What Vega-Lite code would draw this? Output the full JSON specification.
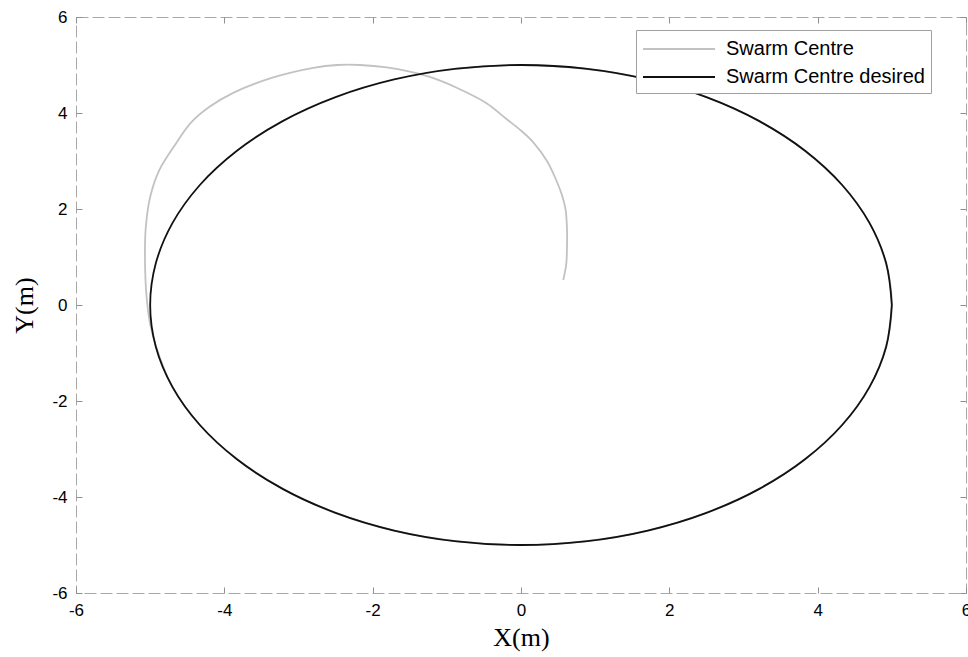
{
  "$schema": "https://vega.github.io/schema/vega-lite/v6.json",
  "width": 890,
  "height": 576,
  "autosize": {"type": "none"},
  "padding": {"left": 76, "top": 17, "right": 2, "bottom": 64},
  "background": "white",
  "data": {"values": [
    {"s": "Swarm Centre", "t": 0, "x": 0.57, "y": 0.52},
    {"s": "Swarm Centre", "t": 1, "x": 0.61, "y": 0.85},
    {"s": "Swarm Centre", "t": 2, "x": 0.62, "y": 1.2},
    {"s": "Swarm Centre", "t": 3, "x": 0.62, "y": 1.6},
    {"s": "Swarm Centre", "t": 4, "x": 0.6, "y": 2.0},
    {"s": "Swarm Centre", "t": 5, "x": 0.55, "y": 2.3},
    {"s": "Swarm Centre", "t": 6, "x": 0.47, "y": 2.62},
    {"s": "Swarm Centre", "t": 7, "x": 0.35, "y": 3.0},
    {"s": "Swarm Centre", "t": 8, "x": 0.16, "y": 3.4},
    {"s": "Swarm Centre", "t": 9, "x": -0.02, "y": 3.66},
    {"s": "Swarm Centre", "t": 10, "x": -0.2, "y": 3.88},
    {"s": "Swarm Centre", "t": 11, "x": -0.46, "y": 4.2},
    {"s": "Swarm Centre", "t": 12, "x": -0.86, "y": 4.52},
    {"s": "Swarm Centre", "t": 13, "x": -1.19, "y": 4.73},
    {"s": "Swarm Centre", "t": 14, "x": -1.5, "y": 4.86},
    {"s": "Swarm Centre", "t": 15, "x": -1.81, "y": 4.95},
    {"s": "Swarm Centre", "t": 16, "x": -2.17, "y": 5.0},
    {"s": "Swarm Centre", "t": 17, "x": -2.48, "y": 5.0},
    {"s": "Swarm Centre", "t": 18, "x": -2.8, "y": 4.94},
    {"s": "Swarm Centre", "t": 19, "x": -3.34, "y": 4.74},
    {"s": "Swarm Centre", "t": 20, "x": -3.88, "y": 4.42},
    {"s": "Swarm Centre", "t": 21, "x": -4.2, "y": 4.13},
    {"s": "Swarm Centre", "t": 22, "x": -4.45, "y": 3.8},
    {"s": "Swarm Centre", "t": 23, "x": -4.68, "y": 3.3},
    {"s": "Swarm Centre", "t": 24, "x": -4.88, "y": 2.8},
    {"s": "Swarm Centre", "t": 25, "x": -5.0, "y": 2.25},
    {"s": "Swarm Centre", "t": 26, "x": -5.06, "y": 1.6},
    {"s": "Swarm Centre", "t": 27, "x": -5.07, "y": 0.94},
    {"s": "Swarm Centre", "t": 28, "x": -5.05, "y": 0.2},
    {"s": "Swarm Centre", "t": 29, "x": -5.0, "y": -0.4},
    {"s": "Swarm Centre", "t": 30, "x": -4.92, "y": -0.87},
    {"s": "Swarm Centre", "t": 31, "x": -4.7, "y": -1.71},
    {"s": "Swarm Centre", "t": 32, "x": -4.33, "y": -2.5},
    {"s": "Swarm Centre", "t": 33, "x": -3.83, "y": -3.21},
    {"s": "Swarm Centre", "t": 34, "x": -3.21, "y": -3.83},
    {"s": "Swarm Centre", "t": 35, "x": -2.5, "y": -4.33},
    {"s": "Swarm Centre", "t": 36, "x": -1.71, "y": -4.7},
    {"s": "Swarm Centre", "t": 37, "x": -0.87, "y": -4.92},
    {"s": "Swarm Centre", "t": 38, "x": 0.0, "y": -5.0},
    {"s": "Swarm Centre", "t": 39, "x": 0.87, "y": -4.92},
    {"s": "Swarm Centre", "t": 40, "x": 1.71, "y": -4.7},
    {"s": "Swarm Centre", "t": 41, "x": 2.5, "y": -4.33},
    {"s": "Swarm Centre", "t": 42, "x": 3.21, "y": -3.83},
    {"s": "Swarm Centre", "t": 43, "x": 3.83, "y": -3.21},
    {"s": "Swarm Centre", "t": 44, "x": 4.33, "y": -2.5},
    {"s": "Swarm Centre", "t": 45, "x": 4.7, "y": -1.71},
    {"s": "Swarm Centre", "t": 46, "x": 4.92, "y": -0.87},
    {"s": "Swarm Centre", "t": 47, "x": 5.0, "y": 0.0},
    {"s": "Swarm Centre", "t": 48, "x": 4.92, "y": 0.87},
    {"s": "Swarm Centre", "t": 49, "x": 4.7, "y": 1.71},
    {"s": "Swarm Centre", "t": 50, "x": 4.33, "y": 2.5},
    {"s": "Swarm Centre", "t": 51, "x": 3.83, "y": 3.21},
    {"s": "Swarm Centre", "t": 52, "x": 3.21, "y": 3.83},
    {"s": "Swarm Centre", "t": 53, "x": 2.5, "y": 4.33},
    {"s": "Swarm Centre", "t": 54, "x": 1.71, "y": 4.7},
    {"s": "Swarm Centre", "t": 55, "x": 0.87, "y": 4.92},
    {"s": "Swarm Centre", "t": 56, "x": 0.0, "y": 5.0},
    {"s": "Swarm Centre", "t": 57, "x": -0.87, "y": 4.92},
    {"s": "Swarm Centre desired", "t": 0, "x": 5.0, "y": 0.0},
    {"s": "Swarm Centre desired", "t": 1, "x": 4.924, "y": 0.868},
    {"s": "Swarm Centre desired", "t": 2, "x": 4.698, "y": 1.71},
    {"s": "Swarm Centre desired", "t": 3, "x": 4.33, "y": 2.5},
    {"s": "Swarm Centre desired", "t": 4, "x": 3.83, "y": 3.214},
    {"s": "Swarm Centre desired", "t": 5, "x": 3.214, "y": 3.83},
    {"s": "Swarm Centre desired", "t": 6, "x": 2.5, "y": 4.33},
    {"s": "Swarm Centre desired", "t": 7, "x": 1.71, "y": 4.698},
    {"s": "Swarm Centre desired", "t": 8, "x": 0.868, "y": 4.924},
    {"s": "Swarm Centre desired", "t": 9, "x": 0.0, "y": 5.0},
    {"s": "Swarm Centre desired", "t": 10, "x": -0.868, "y": 4.924},
    {"s": "Swarm Centre desired", "t": 11, "x": -1.71, "y": 4.698},
    {"s": "Swarm Centre desired", "t": 12, "x": -2.5, "y": 4.33},
    {"s": "Swarm Centre desired", "t": 13, "x": -3.214, "y": 3.83},
    {"s": "Swarm Centre desired", "t": 14, "x": -3.83, "y": 3.214},
    {"s": "Swarm Centre desired", "t": 15, "x": -4.33, "y": 2.5},
    {"s": "Swarm Centre desired", "t": 16, "x": -4.698, "y": 1.71},
    {"s": "Swarm Centre desired", "t": 17, "x": -4.924, "y": 0.868},
    {"s": "Swarm Centre desired", "t": 18, "x": -5.0, "y": 0.0},
    {"s": "Swarm Centre desired", "t": 19, "x": -4.924, "y": -0.868},
    {"s": "Swarm Centre desired", "t": 20, "x": -4.698, "y": -1.71},
    {"s": "Swarm Centre desired", "t": 21, "x": -4.33, "y": -2.5},
    {"s": "Swarm Centre desired", "t": 22, "x": -3.83, "y": -3.214},
    {"s": "Swarm Centre desired", "t": 23, "x": -3.214, "y": -3.83},
    {"s": "Swarm Centre desired", "t": 24, "x": -2.5, "y": -4.33},
    {"s": "Swarm Centre desired", "t": 25, "x": -1.71, "y": -4.698},
    {"s": "Swarm Centre desired", "t": 26, "x": -0.868, "y": -4.924},
    {"s": "Swarm Centre desired", "t": 27, "x": 0.0, "y": -5.0},
    {"s": "Swarm Centre desired", "t": 28, "x": 0.868, "y": -4.924},
    {"s": "Swarm Centre desired", "t": 29, "x": 1.71, "y": -4.698},
    {"s": "Swarm Centre desired", "t": 30, "x": 2.5, "y": -4.33},
    {"s": "Swarm Centre desired", "t": 31, "x": 3.214, "y": -3.83},
    {"s": "Swarm Centre desired", "t": 32, "x": 3.83, "y": -3.214},
    {"s": "Swarm Centre desired", "t": 33, "x": 4.33, "y": -2.5},
    {"s": "Swarm Centre desired", "t": 34, "x": 4.698, "y": -1.71},
    {"s": "Swarm Centre desired", "t": 35, "x": 4.924, "y": -0.868},
    {"s": "Swarm Centre desired", "t": 36, "x": 5.0, "y": 0.0}
  ]},
  "layer": [
    {
      "mark": {"type": "line", "interpolate": "catmull-rom", "strokeWidth": 1.8},
      "encoding": {
        "x": {"field": "x", "type": "quantitative", "scale": {"domain": [-6, 6], "nice": false, "zero": false},
              "axis": {"title": "X(m)", "values": [-6, -4, -2, 0, 2, 4, 6], "orient": "bottom", "labelExpr": "'' + datum.value"}},
        "y": {"field": "y", "type": "quantitative", "scale": {"domain": [-6, 6], "nice": false, "zero": false},
              "axis": {"title": "Y(m)", "values": [-6, -4, -2, 0, 2, 4, 6], "orient": "left", "labelExpr": "'' + datum.value"}},
        "color": {"field": "s", "type": "nominal",
                  "scale": {"domain": ["Swarm Centre", "Swarm Centre desired"], "range": ["#c2c2c2", "#111111"]},
                  "legend": {"orient": "none", "legendX": 560, "legendY": 13, "title": null}},
        "order": {"field": "t", "type": "quantitative"}
      }
    },
    {
      "mark": {"type": "point", "opacity": 0},
      "encoding": {
        "x": {"field": "x", "type": "quantitative", "scale": {"domain": [-6, 6], "nice": false, "zero": false},
              "axis": {"title": null, "labels": false, "values": [-6, -4, -2, 0, 2, 4, 6], "orient": "top"}},
        "y": {"field": "y", "type": "quantitative", "scale": {"domain": [-6, 6], "nice": false, "zero": false},
              "axis": {"title": null, "labels": false, "values": [-6, -4, -2, 0, 2, 4, 6], "orient": "right"}}
      }
    }
  ],
  "resolve": {"axis": {"x": "independent", "y": "independent"}},
  "config": {
    "view": {"stroke": "#a8a8a8", "strokeWidth": 1, "strokeDash": [12, 4]},
    "axis": {
      "domain": false, "grid": false,
      "labelFont": "Liberation Sans", "labelFontSize": 17, "labelColor": "#000", "labelFlush": false,
      "tickColor": "#909090", "tickSize": -6, "labelPadding": 15,
      "titleFont": "Liberation Serif", "titleFontSize": 26, "titleFontWeight": "normal", "titleColor": "#000"
    },
    "axisX": {"titlePadding": 6},
    "axisY": {"titlePadding": 14},
    "legend": {
      "labelFont": "Liberation Sans", "labelFontSize": 20, "labelColor": "#000", "labelLimit": 400,
      "symbolType": "M-1,0H5", "symbolSize": 576, "symbolStrokeWidth": 2,
      "fillColor": "white", "strokeColor": "#a0a0a0", "padding": 6, "rowPadding": 5, "labelOffset": 58
    }
  }
}
